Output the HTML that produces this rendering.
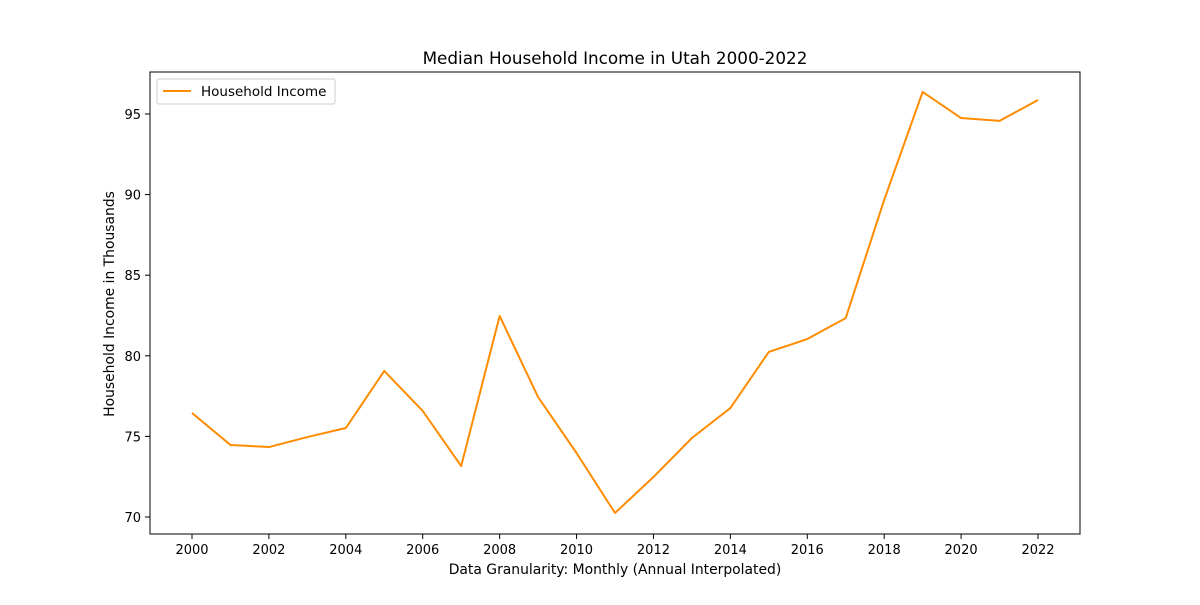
<!DOCTYPE html>
<html><head><meta charset="utf-8"><style>
body{margin:0;background:#fff;font-family:"Liberation Sans","DejaVu Sans",sans-serif;}
svg text{font-family:"DejaVu Sans","Liberation Sans",sans-serif;}
</style></head><body>
<svg id="chart" width="1200" height="600" viewBox="0 0 1200 600" xmlns="http://www.w3.org/2000/svg">
<rect width="1200" height="600" fill="#fff"/>
<text x="615" y="64" text-anchor="middle" font-size="16.8">Median Household Income in Utah 2000-2022</text>
<g id="ticks"></g>
<polyline id="line" fill="none" stroke="#ff8c00" stroke-width="2" stroke-linejoin="round"/>
<rect x="150" y="72" width="930" height="462" fill="none" stroke="#000" stroke-width="1"/>
<text x="615" y="574" text-anchor="middle" font-size="13.9">Data Granularity: Monthly (Annual Interpolated)</text>
<text transform="translate(114,304) rotate(-90)" text-anchor="middle" font-size="13.9">Household Income in Thousands</text>
<g>
<rect x="157" y="79" width="178" height="25" fill="#fff" stroke="#ccc" rx="2"/>
<line x1="163" y1="91" x2="191" y2="91" stroke="#ff8c00" stroke-width="2"/>
<text x="201" y="96" font-size="13.5">Household Income</text>
</g>
</svg>
<script>
const years=[2000,2001,2002,2003,2004,2005,2006,2007,2008,2009,2010,2011,2012,2013,2014,2015,2016,2017,2018,2019,2020,2021,2022];
const income=[76.45,74.47,74.34,74.96,75.52,79.06,76.58,73.16,82.47,77.44,73.97,70.25,72.48,74.9,76.76,80.24,81.04,82.34,89.67,96.37,94.75,94.57,95.87];
const xTicks=[2000,2002,2004,2006,2008,2010,2012,2014,2016,2018,2020,2022];
const yTicks=[70,75,80,85,90,95];
const xs=v=>192+(v-2000)*(1038-192)/22;
const ys=v=>517-(v-70)*(517-114)/25;
const g=document.getElementById('ticks');
const NS='http://www.w3.org/2000/svg';
xTicks.forEach(t=>{
 const l=document.createElementNS(NS,'line');
 
 
 l.setAttribute('x1',xs(t));l.setAttribute('x2',xs(t));l.setAttribute('y1',534);l.setAttribute('y2',539);l.setAttribute('stroke','#000');
 g.appendChild(l);
 const tx=document.createElementNS(NS,'text');
 
 
 tx.setAttribute('x',xs(t));tx.setAttribute('y',554);tx.setAttribute('text-anchor','middle');tx.setAttribute('font-size','13');
 tx.textContent=t;g.appendChild(tx);
});
yTicks.forEach(t=>{
 const l=document.createElementNS(NS,'line');
 
 
 l.setAttribute('x1',145);l.setAttribute('x2',150);l.setAttribute('y1',ys(t));l.setAttribute('y2',ys(t));l.setAttribute('stroke','#000');
 g.appendChild(l);
 const tx=document.createElementNS(NS,'text');
 
 
 tx.setAttribute('x',141);tx.setAttribute('y',ys(t)+5);tx.setAttribute('text-anchor','end');tx.setAttribute('font-size','13');
 tx.textContent=t;g.appendChild(tx);
});
document.getElementById('line').setAttribute('points',years.map((y,i)=>xs(y)+','+ys(income[i])).join(' '));
</script>
</body></html>
